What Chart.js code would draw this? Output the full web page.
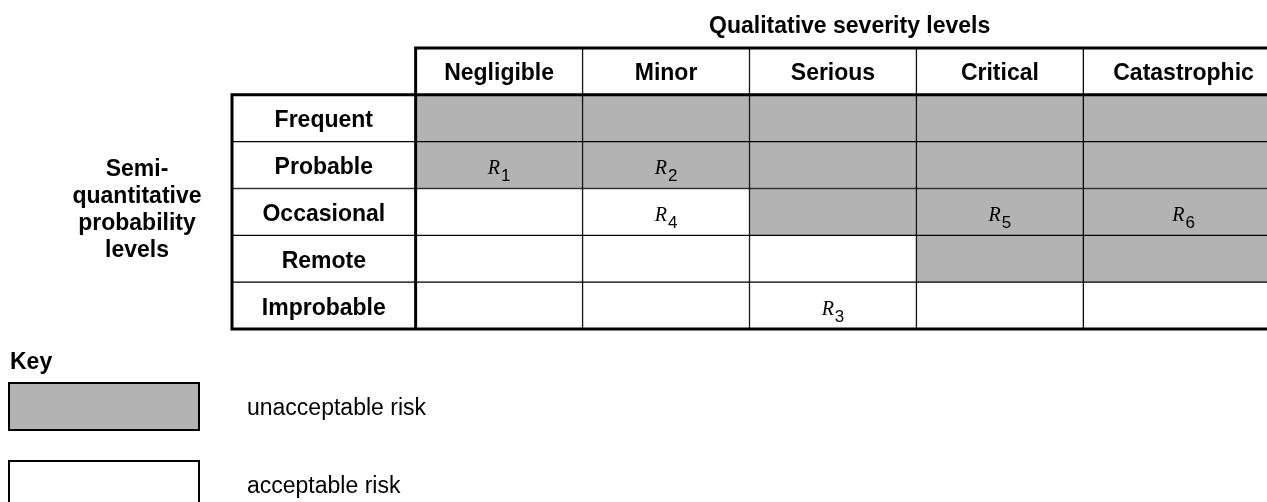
<!DOCTYPE html>
<html>
<head>
<meta charset="utf-8">
<title>Risk matrix</title>
<script src="https://cdn.jsdelivr.net/npm/chart.js@4.4.1/dist/chart.umd.min.js"></script>
<style>
  html, body { margin: 0; padding: 0; background: #fff; }
  #wrap { width: 1267px; height: 502px; }
</style>
</head>
<body>
<div id="wrap"><canvas id="riskChart" width="1267" height="502"></canvas></div>
<script>
// Columns and rows of the matrix
const severityLevels = ["Negligible", "Minor", "Serious", "Critical", "Catastrophic"];
const probabilityLevels = ["Frequent", "Probable", "Occasional", "Remote", "Improbable"];

// 1 = unacceptable risk (grey), 0 = acceptable risk (white)
const frequentRisk = [1, 1, 1, 1, 1];
const probableRisk = [1, 1, 1, 1, 1];
const occasionalRisk = [0, 0, 1, 1, 1];
const remoteRisk = [0, 0, 0, 1, 1];
const improbableRisk = [0, 0, 0, 0, 0];

// Risks placed in the matrix (R with subscript)
const riskNumbers = ["1", "2", "3", "4", "5", "6"];
const riskProbability = ["Probable", "Probable", "Improbable", "Occasional", "Occasional", "Occasional"];
const riskSeverity = ["Negligible", "Minor", "Serious", "Minor", "Critical", "Catastrophic"];

const titleText = "Qualitative severity levels";
const sideLabelLines = ["Semi-", "quantitative", "probability", "levels"];
const keyTitle = "Key";
const keyLabels = ["unacceptable risk", "acceptable risk"];

// layout / style
const FONT = '"Liberation Sans", Arial, sans-serif';
const GREY = "#b3b3b3";
const HEAD_START = -1.1;     // row header column, left of the severity columns
const X_MAX = 5.1;
const LAST_COL_END = 5.2;    // last column runs off the right edge

const rows = [""].concat(probabilityLevels);
const riskRows = [frequentRisk, probableRisk, occasionalRisk, remoteRisk, improbableRisk];

const headerColumn = {
  label: "probability",
  data: rows.map((r, i) => (i === 0 ? null : [HEAD_START, 0])),
  backgroundColor: "#fff",
};

const severityColumns = severityLevels.map((s, j) => ({
  label: s,
  data: rows.map(() => [j, j === severityLevels.length - 1 ? LAST_COL_END : j + 1]),
  backgroundColor: rows.map((r, i) => (i === 0 ? "#fff" : riskRows[i - 1][j] ? GREY : "#fff")),
}));

const tablePlugin = {
  id: "riskTable",
  afterDatasetsDraw(chart) {
    const { ctx, width } = chart;
    const x = chart.scales.x, y = chart.scales.y;
    const band = y.getPixelForValue(1) - y.getPixelForValue(0);
    const rowTop = (i) => y.getPixelForValue(i) - band / 2;
    const cellMid = (ds, i) => {
      const v = chart.data.datasets[ds].data[i];
      return x.getPixelForValue((v[0] + v[1]) / 2);
    };

    ctx.save();
    // heavy outer lines
    const xh = x.getPixelForValue(HEAD_START), x0 = x.getPixelForValue(0), xr = width + 5;
    const yTop = rowTop(0), yBody = rowTop(1), yBot = rowTop(rows.length);
    ctx.strokeStyle = "#000";
    ctx.lineWidth = 3;
    ctx.lineCap = "square";
    ctx.beginPath();
    ctx.moveTo(x0, yBot); ctx.lineTo(x0, yTop); ctx.lineTo(xr, yTop);
    ctx.moveTo(xh, yBot); ctx.lineTo(xh, yBody); ctx.lineTo(xr, yBody);
    ctx.moveTo(xh, yBot); ctx.lineTo(xr, yBot);
    ctx.stroke();

    // column and row headings
    ctx.fillStyle = "#000";
    ctx.textAlign = "center";
    ctx.textBaseline = "alphabetic";
    ctx.font = "bold 23px " + FONT;
    severityLevels.forEach((s, j) => {
      ctx.fillText(s, cellMid(j + 1, 0), y.getPixelForValue(0) + 9);
    });
    probabilityLevels.forEach((p, i) => {
      ctx.fillText(p, cellMid(0, i + 1), y.getPixelForValue(i + 1) + 9);
    });

    // risks
    riskNumbers.forEach((n, k) => {
      const row = probabilityLevels.indexOf(riskProbability[k]) + 1;
      const col = severityLevels.indexOf(riskSeverity[k]) + 1;
      const cx = cellMid(col, row), cy = y.getPixelForValue(row);
      ctx.font = 'italic 20px "Liberation Serif", serif';
      const wR = ctx.measureText("R").width;
      ctx.font = "17px " + FONT;
      const wN = ctx.measureText(n).width;
      const start = cx - (wR + wN + 1) / 2;
      ctx.textAlign = "left";
      ctx.font = 'italic 20px "Liberation Serif", serif';
      ctx.fillText("R", start, cy + 9);
      ctx.font = "17px " + FONT;
      ctx.fillText(n, start + wR + 1, cy + 16);
      ctx.textAlign = "center";
    });

    // title and side label
    ctx.font = "bold 23px " + FONT;
    ctx.fillText(titleText, x.getPixelForValue(LAST_COL_END / 2), 33);
    const mid = (yBody + yBot) / 2;
    sideLabelLines.forEach((t, k) => {
      ctx.fillText(t, 137, mid + (k - 1.5) * 27 + 5);
    });

    // key
    ctx.textAlign = "left";
    ctx.fillText(keyTitle, 10, 369);
    const keyColors = [GREY, "#fff"];
    const keyTops = [383, 461];
    ctx.lineWidth = 2;
    keyLabels.forEach((label, k) => {
      ctx.fillStyle = keyColors[k];
      ctx.fillRect(9, keyTops[k], 190, 47);
      ctx.strokeRect(9, keyTops[k], 190, 47);
      ctx.fillStyle = "#000";
      ctx.font = "23px " + FONT;
      ctx.fillText(label, 247, keyTops[k] + 23.5 + 8);
    });
    ctx.restore();
  },
};

const riskChart = new Chart(document.getElementById("riskChart"), {
  type: "bar",
  data: { labels: rows, datasets: [headerColumn].concat(severityColumns) },
  options: {
    indexAxis: "y",
    responsive: false,
    animation: false,
    layout: { padding: { left: 232, right: 0, top: 48, bottom: 173 } },
    datasets: {
      bar: {
        borderColor: "#000",
        borderWidth: 1,
        borderSkipped: false,
        grouped: false,
        barPercentage: 1,
        categoryPercentage: 1,
      },
    },
    scales: {
      x: { type: "linear", min: HEAD_START, max: X_MAX, display: false },
      y: { type: "category", display: false },
    },
    plugins: { legend: { display: false }, tooltip: { enabled: false } },
  },
  plugins: [tablePlugin],
});
</script>
</body>
</html>
